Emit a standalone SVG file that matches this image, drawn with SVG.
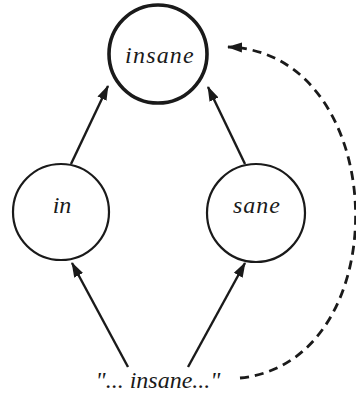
<svg xmlns="http://www.w3.org/2000/svg" width="356" height="398" viewBox="0 0 356 398">
<defs>
<style>
.node{fill:#fff;stroke:#1a1a1a;stroke-width:2.2}
.main{stroke-width:3.6}
.edge{fill:none;stroke:#1a1a1a;stroke-width:2.4}
.dash{stroke-width:2.8;stroke-dasharray:9 6}
</style>
<marker id="ah" markerUnits="userSpaceOnUse" markerWidth="15" markerHeight="12" refX="14" refY="5" orient="auto" viewBox="0 0 15 10">
<path d="M0,0 L15,5 L0,10 Z" fill="#1a1a1a"/>
</marker>
</defs>
<rect width="356" height="398" fill="#fff"/>
<g id="connectors">
<line class="edge" x1="71" y1="164" x2="108" y2="86" marker-end="url(#ah)"/>
<line class="edge" x1="245" y1="164" x2="208" y2="87" marker-end="url(#ah)"/>
<line class="edge" x1="128" y1="367" x2="72" y2="263" marker-end="url(#ah)"/>
<line class="edge" x1="188" y1="367" x2="245" y2="263" marker-end="url(#ah)"/>
<path class="edge dash" d="M240,378 C400,362 392,52 228,47" marker-end="url(#ah)"/>
</g>
<g font-family="Liberation Serif, Times New Roman, serif" font-style="italic" font-size="24" fill="#1a1a1a" text-anchor="middle">
<g id="insane">
<circle class="node main" cx="158" cy="54" r="49"/>
<text x="160" y="63" letter-spacing="1.2">insane</text>
</g>
<g id="in">
<circle class="node" cx="61" cy="212" r="48"/>
<text x="62" y="213">in</text>
</g>
<g id="sane">
<circle class="node" cx="256" cy="213" r="49"/>
<text x="257" y="213" letter-spacing="1">sane</text>
</g>
<g id="source">
<text x="158" y="388">"... insane..."</text>
</g>
</g>
</svg>
